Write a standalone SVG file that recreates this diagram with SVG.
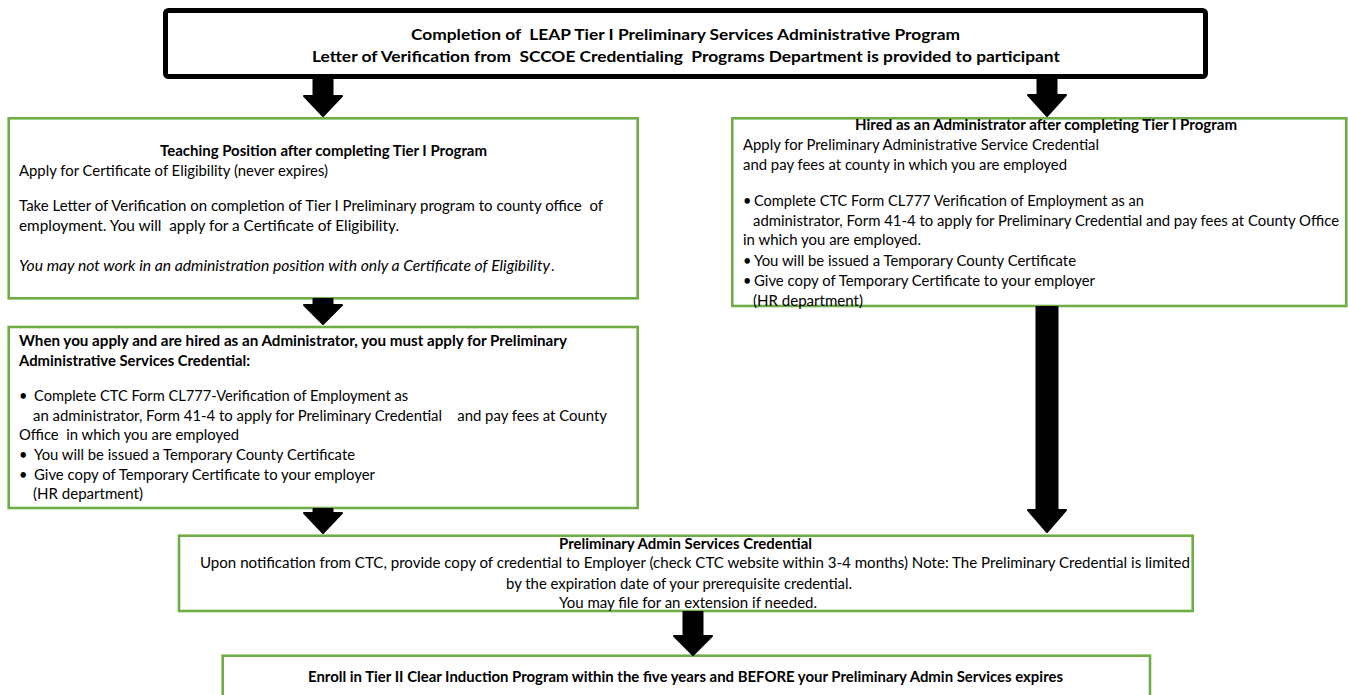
<svg xmlns="http://www.w3.org/2000/svg" width="1348" height="695" viewBox="0 0 1348 695">
<style>
.t{font-family:Lato,"Liberation Sans",sans-serif;font-size:14.5px;fill:#000;white-space:pre}
.b{font-weight:bold}
.i{font-style:italic}
.h{font-size:15.5px;font-weight:bold}
.box{fill:#fff;stroke:#70AD47;stroke-width:2.6}
.top{fill:#fff;stroke:#000;stroke-width:5}
.arr{fill:#000;stroke:#000;stroke-width:2;stroke-linejoin:round}
</style>
<rect width="1348" height="695" fill="#fff"/>
<g id="node-start">
<rect class="top" x="165.5" y="10.5" width="1040" height="66" rx="3"/>
<text class="t h" x="411" y="40" textLength="549" lengthAdjust="spacingAndGlyphs">Completion of  LEAP Tier I Preliminary Services Administrative Program</text>
<text class="t h" x="312" y="62" textLength="748" lengthAdjust="spacingAndGlyphs">Letter of Verification from  SCCOE Credentialing  Programs Department is provided to participant</text>
</g>
<g id="node-teaching">
<rect class="box" x="8.7" y="118.3" width="629" height="180"/>
<text class="t b" x="160" y="156" textLength="327" lengthAdjust="spacingAndGlyphs">Teaching Position after completing Tier I Program</text>
<text class="t" x="19" y="176" textLength="309" lengthAdjust="spacingAndGlyphs">Apply for Certificate of Eligibility (never expires)</text>
<text class="t" x="19" y="211" textLength="584" lengthAdjust="spacingAndGlyphs">Take Letter of Verification on completion of Tier I Preliminary program to county office  of</text>
<text class="t" x="19" y="231" textLength="380" lengthAdjust="spacingAndGlyphs">employment. You will  apply for a Certificate of Eligibility.</text>
<text class="t i" x="19" y="271" textLength="531" lengthAdjust="spacingAndGlyphs">You may not work in an administration position with only a Certificate of Eligibility</text>
<text class="t" x="551" y="271">.</text>
</g>
<g id="node-apply-admin">
<rect class="box" x="8.7" y="327" width="629" height="181"/>
<text class="t b" x="19" y="346" textLength="548" lengthAdjust="spacingAndGlyphs">When you apply and are hired as an Administrator, you must apply for Preliminary</text>
<text class="t b" x="19" y="366" textLength="231" lengthAdjust="spacingAndGlyphs">Administrative Services Credential:</text>
<text class="t" x="19" y="401">•</text>
<text class="t" x="34" y="401" textLength="374" lengthAdjust="spacingAndGlyphs">Complete CTC Form CL777-Verification of Employment as</text>
<text class="t" x="33" y="421" textLength="574" lengthAdjust="spacingAndGlyphs">an administrator, Form 41-4 to apply for Preliminary Credential    and pay fees at County</text>
<text class="t" x="19" y="440" textLength="220" lengthAdjust="spacingAndGlyphs">Office  in which you are employed</text>
<text class="t" x="19" y="460">•</text>
<text class="t" x="34" y="460" textLength="321" lengthAdjust="spacingAndGlyphs">You will be issued a Temporary County Certificate</text>
<text class="t" x="19" y="480">•</text>
<text class="t" x="34" y="480" textLength="341" lengthAdjust="spacingAndGlyphs">Give copy of Temporary Certificate to your employer</text>
<text class="t" x="33" y="499" textLength="110" lengthAdjust="spacingAndGlyphs">(HR department)</text>
</g>
<g id="node-hired">
<rect class="box" x="732.3" y="118.3" width="614" height="187.7"/>
<text class="t b" x="855" y="130" textLength="382" lengthAdjust="spacingAndGlyphs">Hired as an Administrator after completing Tier I Program</text>
<text class="t" x="743" y="150" textLength="356" lengthAdjust="spacingAndGlyphs">Apply for Preliminary Administrative Service Credential</text>
<text class="t" x="743" y="170" textLength="324" lengthAdjust="spacingAndGlyphs">and pay fees at county in which you are employed</text>
<text class="t" x="743" y="206">•</text>
<text class="t" x="754" y="206" textLength="390" lengthAdjust="spacingAndGlyphs">Complete CTC Form CL777 Verification of Employment as an</text>
<text class="t" x="753" y="226" textLength="586" lengthAdjust="spacingAndGlyphs">administrator, Form 41-4 to apply for Preliminary Credential and pay fees at County Office</text>
<text class="t" x="743" y="245" textLength="178" lengthAdjust="spacingAndGlyphs">in which you are employed.</text>
<text class="t" x="743" y="266">•</text>
<text class="t" x="754" y="266" textLength="322" lengthAdjust="spacingAndGlyphs">You will be issued a Temporary County Certificate</text>
<text class="t" x="743" y="286">•</text>
<text class="t" x="754" y="286" textLength="341" lengthAdjust="spacingAndGlyphs">Give copy of Temporary Certificate to your employer</text>
<text class="t" x="753" y="306" textLength="110" lengthAdjust="spacingAndGlyphs">(HR department)</text>
</g>
<g id="node-prelim">
<rect class="box" x="179" y="535.7" width="1013.7" height="75.3"/>
<text class="t b" x="559" y="549" textLength="253" lengthAdjust="spacingAndGlyphs">Preliminary Admin Services Credential</text>
<text class="t" x="200" y="568" textLength="990" lengthAdjust="spacingAndGlyphs">Upon notification from CTC, provide copy of credential to Employer (check CTC website within 3-4 months) Note: The Preliminary Credential is limited</text>
<text class="t" x="506" y="589" textLength="346" lengthAdjust="spacingAndGlyphs">by the expiration date of your prerequisite credential.</text>
<text class="t" x="559" y="608" textLength="258" lengthAdjust="spacingAndGlyphs">You may file for an extension if needed.</text>
</g>
<g id="node-enroll">
<rect class="box" x="222.7" y="655.7" width="927.3" height="70"/>
<text class="t b" x="308" y="682" textLength="755" lengthAdjust="spacingAndGlyphs">Enroll in Tier II Clear Induction Program within the five years and BEFORE your Preliminary Admin Services expires</text>
</g>
<g id="connectors">
<path class="arr" d="M313.5,78 H332.5 V96 H342 L323,116 L304,96 H313.5 Z"/>
<path class="arr" d="M1037.5,78 H1056.5 V95 H1066 L1047,116 L1028,95 H1037.5 Z"/>
<path class="arr" d="M313.5,299 H332.5 V305 H342 L323,324 L304,305 H313.5 Z"/>
<path class="arr" d="M313.5,509 H332.5 V513 H342 L323,533 L304,513 H313.5 Z"/>
<path class="arr" d="M1036.5,307 H1057.5 V510 H1066 L1047,532 L1028,510 H1036.5 Z"/>
<path class="arr" d="M683.5,612 H702.5 V636 H712 L693,655 L674,636 H683.5 Z"/>
</g>
</svg>
